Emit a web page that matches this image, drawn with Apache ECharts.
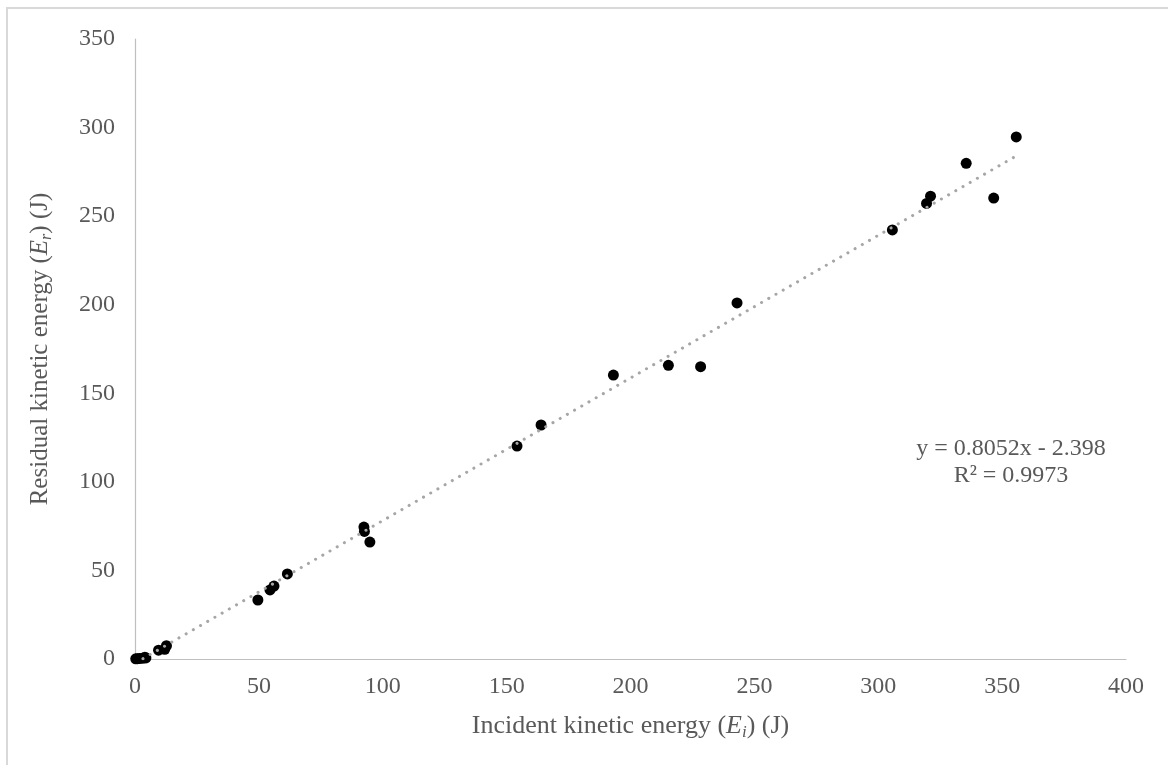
<!DOCTYPE html>
<html>
<head>
<meta charset="utf-8">
<script src="https://cdn.jsdelivr.net/npm/echarts@6/dist/echarts.min.js"></script>
<style>
  html, body { margin: 0; padding: 0; background: #fff; }
  #chart { width: 1168px; height: 765px; }
</style>
</head>
<body>
<div id="chart"></div>
<script>
// Incident vs residual kinetic energy measurements (J)
const incidentEnergy = [0.3, 1.0, 1.8, 3.0, 4.0, 4.4, 9.5, 12.0, 12.7, 49.6, 54.5, 56.1, 61.5,
  92.4, 92.6, 94.8, 154.2, 163.9, 193.1, 215.3, 228.3, 243.0, 305.7, 319.5, 321.1, 335.5, 346.6, 355.7];
const residualEnergy = [0.1, 0.2, 0.3, 0.4, 1.0, 0.6, 5.0, 5.5, 7.5, 33.3, 39.0, 41.2, 48.0,
  74.5, 72.0, 66.0, 120.2, 132.1, 160.3, 165.8, 165.0, 201.0, 242.2, 257.2, 261.3, 279.8, 260.2, 294.7];

// Linear fit reported on the chart
const fitSlope = 0.8052;
const fitIntercept = -2.398;
const fitR2 = 0.9973;

const xTicks = { min: 0, max: 400, interval: 50 };
const yTicks = { min: 0, max: 350, interval: 50 };

const points = incidentEnergy.map((x, i) => [x, residualEnergy[i]]);
const xLo = Math.min(...incidentEnergy), xHi = Math.max(...incidentEnergy);
const fitLine = [[xLo, fitSlope * xLo + fitIntercept], [xHi, fitSlope * xHi + fitIntercept]];

const serif = '"Liberation Serif", "Times New Roman", serif';
const textGray = '#595959';

function titleRich(size) {
  return {
    n: { color: textGray, fontFamily: serif, fontSize: size },
    i: { color: textGray, fontFamily: serif, fontSize: size, fontStyle: 'italic' },
    s: { color: textGray, fontFamily: serif, fontSize: Math.round(size * 0.65), fontStyle: 'italic',
         verticalAlign: 'bottom', padding: [Math.round(size * 0.5), 0, 0, 0] }
  };
}

const chart = echarts.init(document.getElementById('chart'), null, { renderer: 'canvas' });
chart.setOption({
  animation: false,
  backgroundColor: '#ffffff',
  grid: { left: 135, right: 42, top: 39, bottom: 106 },
  xAxis: {
    type: 'value',
    min: xTicks.min, max: xTicks.max, interval: xTicks.interval,
    axisLine: { show: true, lineStyle: { color: '#bfbfbf', width: 1.2 } },
    axisTick: { show: false },
    splitLine: { show: false },
    axisLabel: { color: textGray, fontFamily: serif, fontSize: 24, margin: 16 },
    name: '{n|Incident kinetic energy (}{i|E}{s|i}{n|) (J)}',
    nameLocation: 'middle',
    nameGap: 52,
    nameTextStyle: { rich: titleRich(26) }
  },
  yAxis: {
    type: 'value',
    min: yTicks.min, max: yTicks.max, interval: yTicks.interval,
    axisLine: { show: true, lineStyle: { color: '#bfbfbf', width: 1.2 } },
    axisTick: { show: false },
    splitLine: { show: false },
    axisLabel: { color: textGray, fontFamily: serif, fontSize: 24, margin: 20 },
    name: '{n|Residual kinetic energy (}{i|E}{s|r}{n|) (J)}',
    nameLocation: 'middle',
    nameGap: 80,
    nameRotate: 90,
    nameTextStyle: { rich: titleRich(25) }
  },
  series: [
    {
      type: 'line',
      data: fitLine,
      showSymbol: false,
      symbol: 'none',
      z: 3,
      lineStyle: { color: '#a6a6a6', width: 3, type: [0.1, 8.2], cap: 'round' }
    },
    {
      type: 'scatter',
      data: points,
      symbol: 'circle',
      symbolSize: 11,
      z: 2,
      itemStyle: { color: '#000000', opacity: 1 }
    }
  ],
  graphic: [
    {
      type: 'rect',
      silent: true,
      shape: { x: 7, y: 8, width: 1200, height: 800 },
      style: { fill: 'none', stroke: '#d9d9d9', lineWidth: 2 }
    },
    {
      type: 'text',
      silent: true,
      x: 1011, y: 435,
      style: {
        text: 'y = ' + fitSlope.toFixed(4) + 'x - ' + Math.abs(fitIntercept).toFixed(3) + '\nR² = ' + fitR2.toFixed(4),
        fill: textGray, font: '24px ' + serif, align: 'center', lineHeight: 27
      }
    }
  ]
});
</script>
</body>
</html>
